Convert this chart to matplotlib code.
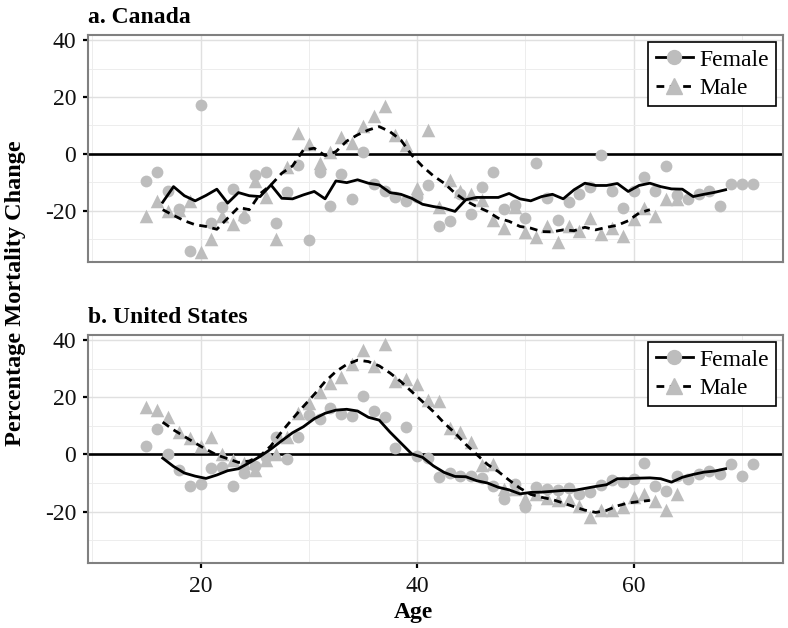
import numpy as np
import matplotlib
matplotlib.use("Agg")
import matplotlib.pyplot as plt
from matplotlib.lines import Line2D

plt.rcParams['font.family'] = ['Liberation Serif', 'DejaVu Serif']
plt.rcParams['axes.unicode_minus'] = False

# ages of the single-year points and of the smoothed lines
pt_age_f = np.arange(15, 72)
pt_age_m = np.arange(15, 65)
ln_age_f = np.arange(16.5, 69, 1.0)
ln_age_m = np.arange(16.5, 62, 1.0)

# a. Canada
ca_f_pts = [-9.5, -6.2, -13.0, -19.5, -34.3, 17.2, -24.3, -18.5, -12.4, -22.6,
            -7.4, -6.2, -24.3, -13.5, -3.9, -30.2, -6.2, -18.2, -7.1, -15.8,
            0.6, -10.6, -13.2, -15.3, -16.7, -15.3, -10.9, -25.4, -23.5, -14.0,
            -21.1, -11.5, -6.4, -19.5, -18.0, -22.7, -3.2, -15.4, -23.3, -17.0,
            -14.0, -11.8, -0.4, -12.9, -19.1, -12.9, -8.0, -12.9, -4.2, -14.4,
            -15.8, -14.2, -13.0, -18.2, -10.5, -10.5, -10.5]
ca_m_pts = [-22.0, -16.6, -20.0, -19.6, -16.5, -34.4, -29.9, -22.0, -24.8, -21.0,
            -9.7, -15.0, -29.9, -4.5, 7.3, 3.4, -3.3, 0.8, 6.0, 4.0,
            9.7, 13.2, 17.0, 6.5, 3.2, -12.0, 8.5, -18.5, -9.3, -13.2,
            -14.0, -16.3, -23.4, -26.0, -18.5, -27.3, -29.3, -25.2, -31.0, -25.4,
            -27.2, -22.7, -28.1, -26.1, -28.8, -22.9, -19.0, -22.0, -16.0, -16.0]
ca_f_line = [-17.0, -11.5, -14.7, -16.5, -14.6, -12.4, -17.3, -13.6, -14.7, -15.0,
             -10.9, -15.6, -15.8, -14.4, -13.2, -15.8, -9.5, -10.1, -9.1, -10.3,
             -10.9, -13.6, -14.2, -15.6, -17.7, -18.5, -19.1, -20.2, -16.1, -15.3,
             -15.3, -15.3, -13.9, -15.8, -16.5, -15.0, -14.2, -15.8, -12.6, -10.3,
             -11.1, -11.1, -10.4, -13.2, -11.1, -10.3, -11.5, -12.3, -12.4, -15.0,
             -14.2, -13.5, -12.6]
ca_m_line = [-19.6, -21.6, -23.5, -24.9, -25.5, -26.5, -22.6, -18.8, -19.6, -14.0,
             -10.9, -6.8, -4.2, 1.4, 2.0, -0.6, 0.8, 4.5, 6.7, 8.4,
             9.6, 7.8, 4.9, -0.4, -4.4, -7.7, -10.3, -13.8, -16.5, -18.5,
             -20.2, -22.6, -23.7, -25.5, -26.1, -27.3, -27.4, -26.7, -27.0, -25.8,
             -26.7, -25.8, -25.1, -23.5, -20.8, -19.6]

# b. United States
us_f_pts = [2.8, 8.8, 0.0, -5.6, -11.2, -10.3, -4.8, -4.3, -10.9, -6.6,
            -4.0, -1.0, 6.2, -1.5, 6.0, 13.8, 12.3, 16.2, 14.1, 13.3,
            20.5, 15.2, 13.1, 2.1, 9.6, -0.7, -1.1, -7.9, -6.6, -7.7,
            -7.6, -8.3, -11.0, -15.6, -10.3, -18.4, -11.4, -12.0, -12.6, -11.6,
            -13.8, -13.2, -10.6, -9.0, -9.8, -8.7, -2.9, -11.2, -12.9, -7.4,
            -8.5, -7.0, -5.7, -6.8, -3.4, -7.7, -3.4]
us_m_pts = [16.6, 15.5, 13.1, 7.8, 5.8, 3.0, 6.1, 0.3, -2.0, -3.0,
            -5.5, -2.0, 0.0, 6.0, 14.4, 18.0, 22.0, 25.0, 27.1, 31.7,
            36.6, 31.0, 38.6, 25.6, 26.5, 24.8, 19.0, 18.6, 9.3, 7.8,
            4.5, -3.6, -3.3, -12.0, -12.0, -15.6, -14.0, -15.2, -16.0, -15.6,
            -18.0, -21.9, -19.5, -19.4, -18.5, -15.0, -13.7, -16.4, -19.6, -13.9]
us_f_line = [-1.3, -4.2, -6.5, -7.6, -8.4, -7.2, -5.7, -5.0, -2.9, -0.7,
             1.9, 4.8, 7.6, 9.7, 12.5, 14.4, 15.5, 15.8, 15.2, 13.0,
             12.0, 7.8, 4.0, 0.2, -1.0, -4.0, -6.3, -7.7, -7.8, -9.2,
             -10.0, -11.5, -12.4, -13.8, -13.3, -13.2, -12.9, -12.6, -12.6, -11.9,
             -11.2, -10.6, -8.5, -8.5, -8.3, -8.2, -8.5, -9.7, -8.0, -7.0,
             -6.2, -5.8, -5.0]
us_m_line = [11.3, 8.6, 6.3, 4.0, 1.8, -0.2, -1.5, -2.8, -2.3, -0.5,
             3.0, 8.0, 12.5, 16.8, 21.0, 25.5, 29.0, 31.5, 33.0, 32.5,
             31.0, 28.5, 25.5, 22.0, 18.5, 15.0, 11.0, 7.5, 3.5, 0.0,
             -3.5, -6.0, -9.0, -11.8, -14.0, -15.0, -15.8, -17.0, -18.3, -19.5,
             -20.3, -19.6, -18.0, -17.0, -16.5, -16.1]

pt_color = '#bdbdbd'
W, H = 788, 628
LW = 2.0
DASH = (0, (2.8, 2.0))


def draw_panel(ax, f_pts, m_pts, f_line, m_line, show_x):
    ax.set_xlim(9.6, 73.8)
    ax.set_ylim(-38.0, 41.8)
    ax.set_xticks([20, 40, 60])
    ax.set_xticks([10, 30, 50, 70], minor=True)
    ax.set_yticks([-20, 0, 20, 40])
    ax.set_yticks([-30, -10, 10, 30], minor=True)
    ax.grid(which='major', color='#e0e0e0', lw=1.0)
    ax.grid(which='minor', color='#ededed', lw=0.7)
    ax.set_axisbelow(True)
    ax.axhline(0, color='black', lw=1.9, zorder=2)

    ax.scatter(pt_age_f, f_pts, s=72, marker='o', color=pt_color, linewidths=0, zorder=3)
    ax.scatter(pt_age_m, m_pts, s=95, marker='^', color=pt_color, linewidths=0, zorder=3)
    ax.plot(ln_age_f, f_line, color='black', lw=LW, zorder=4)
    ax.plot(ln_age_m, m_line, color='black', lw=LW, ls=DASH, zorder=4)

    for sp in ax.spines.values():
        sp.set_color('#808080')
        sp.set_linewidth(1.5)
    ax.tick_params(which='major', direction='out', length=3.5, width=1.6,
                   color='black', labelsize=17, labelcolor='#111111', pad=5)
    ax.tick_params(which='minor', length=0)
    ax.tick_params(axis='x', which='major', pad=6)
    if not show_x:
        ax.tick_params(axis='x', which='major', length=0, labelbottom=False)

    handles = [
        Line2D([], [], color='black', lw=LW, marker='o', markersize=10,
               markerfacecolor=pt_color, markeredgecolor=pt_color),
        Line2D([], [], color='black', lw=LW, ls=DASH, marker='^', markersize=11,
               markerfacecolor=pt_color, markeredgecolor=pt_color),
    ]
    leg = ax.legend(handles, ['Female', 'Male'], loc='upper right', fontsize=17,
                    handlelength=1.6, handletextpad=0.25, labelspacing=0.3,
                    borderpad=0.3, borderaxespad=0.3, fancybox=False,
                    framealpha=1, edgecolor='black', numpoints=1)
    leg.get_frame().set_linewidth(1.2)


fig = plt.figure(figsize=(W / 100, H / 100), dpi=100)
ax_a = fig.add_axes([88 / W, 1 - 262 / H, 695 / W, 227 / H])
ax_b = fig.add_axes([88 / W, 1 - 563 / H, 695 / W, 228 / H])

draw_panel(ax_a, ca_f_pts, ca_m_pts, ca_f_line, ca_m_line, show_x=False)
draw_panel(ax_b, us_f_pts, us_m_pts, us_f_line, us_m_line, show_x=True)

fig.text(88 / W, 1 - 23 / H, 'a. Canada', fontsize=17, fontweight='bold', va='baseline')
fig.text(88 / W, 1 - 323 / H, 'b. United States', fontsize=17, fontweight='bold', va='baseline')
fig.text(16 / W, 1 - 293 / H, 'Percentage Mortality Change', fontsize=17.5, fontweight='bold',
         rotation=90, ha='center', va='center')
fig.text(413 / W, 1 - 618 / H, 'Age', fontsize=17, fontweight='bold', ha='center', va='baseline')

fig.savefig('out.png', dpi=100)
